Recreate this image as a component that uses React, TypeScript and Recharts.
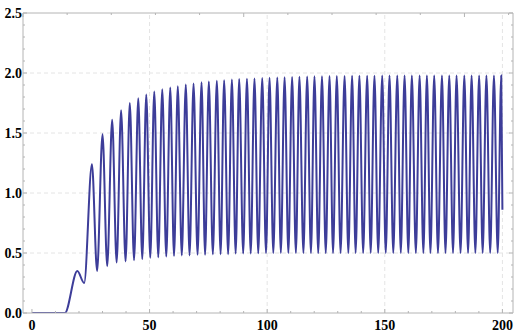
import { LineChart, Line, XAxis, YAxis, ReferenceLine } from "recharts";

// flat start before the signal rises
const startT = [0, 14];
const startV = [0, 0];

// maxima (time, value)
const peakT = [
  19.3, 25.5, 30.0, 34.1, 37.9, 41.6, 45.2, 48.6,
  52.0, 55.4, 58.8, 62.0, 65.4, 68.7, 72.1, 75.2, 78.6, 81.7, 85.0,
  88.1, 91.4, 94.6, 97.9, 101.0, 104.3, 107.4, 110.6, 113.7, 117.0, 120.1, 123.3,
  126.5, 129.6, 132.9, 136.1, 139.2, 142.5, 145.6, 148.9, 152.0, 155.3, 158.4, 161.5,
  164.8, 167.9, 171.0, 174.3, 177.4, 180.5, 183.8, 186.9, 190.1, 193.2, 196.4, 199.5,
];
const peakV = [
  0.35, 1.24, 1.49, 1.61, 1.69, 1.75, 1.79, 1.82,
  1.845, 1.865, 1.88, 1.89, 1.905, 1.912, 1.922, 1.93, 1.935, 1.94, 1.945,
  1.95, 1.952, 1.955, 1.958, 1.96, 1.963, 1.965, 1.967, 1.969, 1.97, 1.972, 1.973,
  1.974, 1.975, 1.976, 1.977, 1.977, 1.978, 1.978, 1.979, 1.979, 1.98, 1.98, 1.98,
  1.98, 1.98, 1.98, 1.98, 1.98, 1.98, 1.98, 1.98, 1.98, 1.98, 1.98, 1.98,
];

// minima between the peaks
const troughT = [
  22.2, 27.7, 32.0, 36.0, 39.8, 43.4, 46.9, 50.3,
  53.7, 57.1, 60.4, 63.7, 67.0, 70.4, 73.6, 76.9, 80.2, 83.4, 86.6,
  89.8, 93.0, 96.2, 99.5, 102.6, 105.8, 109.0, 112.2, 115.4, 118.6, 121.7, 124.9,
  128.0, 131.2, 134.5, 137.6, 140.8, 144.0, 147.2, 150.4, 153.6, 156.8, 160.0, 163.2,
  166.4, 169.4, 172.6, 175.8, 179.0, 182.2, 185.4, 188.5, 191.6, 194.8, 198.0,
];
const troughV = [
  0.25, 0.35, 0.39, 0.42, 0.43, 0.44, 0.45, 0.46,
  0.465, 0.47, 0.475, 0.48, 0.48, 0.485, 0.485, 0.49, 0.49, 0.49, 0.495, 0.495, 0.495, 0.498,
  0.5, 0.5, 0.5, 0.5, 0.5, 0.5, 0.5, 0.5,
  0.5, 0.5, 0.5, 0.5, 0.5, 0.5, 0.5, 0.5,
  0.5, 0.5, 0.5, 0.5, 0.5, 0.5, 0.5, 0.5,
  0.5, 0.5, 0.5, 0.5, 0.5, 0.5, 0.5, 0.5,
];

const endT = 200;
const endV = 0.86;

const xTicks = [0, 10, 20, 30, 40, 50, 60, 70, 80, 90, 100, 110, 120, 130, 140, 150, 160, 170, 180, 190, 200];
const yTicks = [
  0, 0.1, 0.2, 0.3, 0.4, 0.5, 0.6, 0.7, 0.8, 0.9, 1.0, 1.1, 1.2,
  1.3, 1.4, 1.5, 1.6, 1.7, 1.8, 1.9, 2.0, 2.1, 2.2, 2.3, 2.4, 2.5,
];
const xGrid = [50, 100, 150, 200];
const yGrid = [0.5, 1.0, 1.5, 2.0];

const data: { t: number; v: number }[] = [];
startT.forEach((t, i) => data.push({ t, v: startV[i] }));
peakT.forEach((t, i) => {
  data.push({ t, v: peakV[i] });
  if (i < troughT.length) data.push({ t: troughT[i], v: troughV[i] });
});
data.push({ t: endT, v: endV });

const FRAME = "#b4b4b4";
const GRID = "#e4e4e4";
const LINE = "#3d3d99";
const FONT = "'Liberation Serif', 'Times New Roman', serif";

const isMajorX = (v: number) => Math.abs(v % 50) < 1e-6;
const isMajorY = (v: number) => Math.abs(Math.round(v * 10) % 5) === 0;

function BottomTick(props: any) {
  const { x, y, payload } = props;
  const major = isMajorX(payload.value);
  return (
    <g>
      <line x1={x} y1={y} x2={x} y2={y - (major ? 4 : 2)} stroke={FRAME} />
      {major && (
        <text x={x} y={y + 17} textAnchor="middle" fontFamily={FONT} fontWeight="bold" fontSize={14} fill="#000">
          {payload.value}
        </text>
      )}
    </g>
  );
}

function TopTick(props: any) {
  const { x, y, payload } = props;
  const major = isMajorX(payload.value);
  return <line x1={x} y1={y} x2={x} y2={y + (major ? 4 : 2)} stroke={FRAME} />;
}

function LeftTick(props: any) {
  const { x, y, payload } = props;
  const major = isMajorY(payload.value);
  return (
    <g>
      <line x1={x} y1={y} x2={x + (major ? 4 : 2)} y2={y} stroke={FRAME} />
      {major && (
        <text x={x - 1} y={y} dy={5} textAnchor="end" fontFamily={FONT} fontWeight="bold" fontSize={14} fill="#000">
          {payload.value.toFixed(1)}
        </text>
      )}
    </g>
  );
}

function RightTick(props: any) {
  const { x, y, payload } = props;
  const major = isMajorY(payload.value);
  return <line x1={x} y1={y} x2={x - (major ? 4 : 2)} y2={y} stroke={FRAME} />;
}

export default function App() {
  return (
    <div style={{ position: "absolute", left: 0, top: 0, background: "#fff" }}>
      <LineChart width={516} height={335} data={data} margin={{ top: 0, right: 0, bottom: 0, left: 0 }}>
        <XAxis
          dataKey="t"
          type="number"
          domain={[-3.8, 204.5]}
          allowDataOverflow
          ticks={xTicks}
          interval={0}
          height={22}
          tickSize={0}
          tickMargin={0}
          tickLine={false}
          axisLine={{ stroke: FRAME }}
          tick={<BottomTick />}
        />
        <XAxis
          xAxisId="top"
          orientation="top"
          type="number"
          domain={[-3.8, 204.5]}
          allowDataOverflow
          ticks={xTicks}
          interval={0}
          height={13}
          tickSize={0}
          tickMargin={0}
          tickLine={false}
          axisLine={{ stroke: FRAME }}
          tick={<TopTick />}
        />
        <YAxis
          type="number"
          domain={[0, 2.5]}
          allowDataOverflow
          ticks={yTicks}
          interval={0}
          width={23}
          tickSize={0}
          tickMargin={0}
          tickLine={false}
          axisLine={{ stroke: FRAME }}
          tick={<LeftTick />}
        />
        <YAxis
          yAxisId="right"
          orientation="right"
          type="number"
          domain={[0, 2.5]}
          allowDataOverflow
          ticks={yTicks}
          interval={0}
          width={3}
          tickSize={0}
          tickMargin={0}
          tickLine={false}
          axisLine={{ stroke: FRAME }}
          tick={<RightTick />}
        />
        {yGrid.map((v) => (
          <ReferenceLine key={"y" + v} y={v} stroke={GRID} strokeDasharray="4 3" />
        ))}
        {xGrid.map((v) => (
          <ReferenceLine key={"x" + v} x={v} stroke={GRID} strokeDasharray="4 3" />
        ))}
        <Line
          dataKey="v"
          type="monotone"
          stroke={LINE}
          strokeWidth={2}
          dot={false}
          isAnimationActive={false}
        />
      </LineChart>
    </div>
  );
}
